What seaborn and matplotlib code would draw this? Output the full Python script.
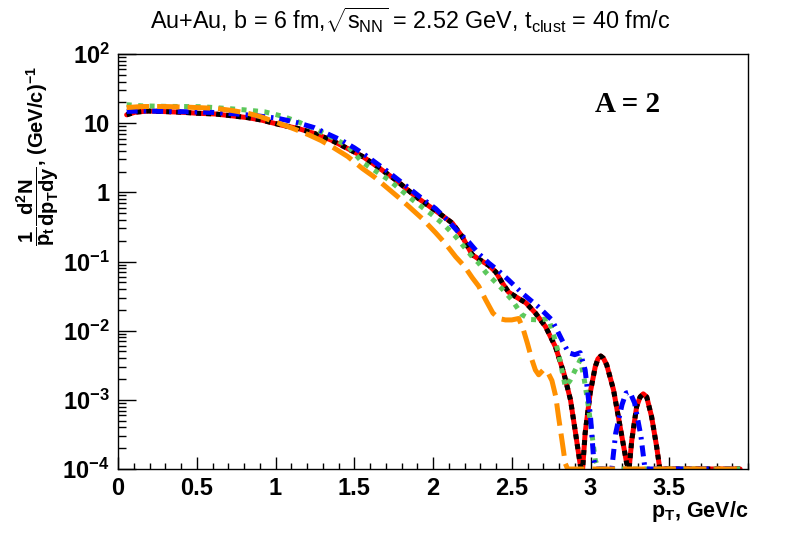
import numpy as np
import pandas as pd
import seaborn as sns
import matplotlib
matplotlib.use("Agg")
import matplotlib.pyplot as plt
from matplotlib.ticker import MultipleLocator, LogLocator, FixedLocator, NullFormatter

# pT grid points and spectra (zero bins drawn at the floor 1e-4)
red_x = [0.055, 0.108, 0.192, 0.297, 0.403, 0.508, 0.614, 0.72, 0.825, 0.91,
         1.036, 1.142, 1.247, 1.353, 1.458, 1.553, 1.616, 1.764, 1.89, 2.038,
         2.122, 2.185, 2.249, 2.30, 2.354, 2.40, 2.44, 2.48, 2.525, 2.59,
         2.65, 2.715, 2.778, 2.83, 2.873, 2.905, 2.937, 2.95, 2.966, 2.998,
         3.03, 3.047, 3.065, 3.082, 3.103, 3.146, 3.188, 3.23, 3.245, 3.262,
         3.293, 3.315, 3.335, 3.357, 3.388, 3.42, 3.44, 3.95]
red_y = [13.2, 14.4, 15.0, 14.7, 14.4, 13.9, 13.6, 12.8, 12.0, 11.1,
         9.4, 8.4, 7.1, 5.7, 4.3, 3.3, 2.63, 1.51, 0.87, 0.50,
         0.36, 0.23, 0.125, 0.105, 0.088, 0.07, 0.049, 0.036, 0.031, 0.0252,
         0.018, 0.0114, 0.0058, 0.00246, 0.001, 3.3e-4, 1.07e-4, 1e-4, 3.3e-4, 1.26e-3,
         3.0e-3, 3.9e-3, 4.3e-3, 4.0e-3, 3.2e-3, 1.4e-3, 4.1e-4, 1.2e-4, 1e-4, 2.6e-4,
         8e-4, 1.1e-3, 1.22e-3, 1.1e-3, 5.7e-4, 2.1e-4, 1e-4, 1e-4]
black_x = red_x
black_y = red_y

blue_x = [0.055, 0.15, 0.3, 0.45, 0.6, 0.75, 0.88, 1.01, 1.13, 1.247,
          1.33, 1.416, 1.5, 1.574, 1.70, 1.827, 1.92, 2.017, 2.1, 2.165,
          2.228, 2.29, 2.354, 2.42, 2.48, 2.565, 2.67, 2.755, 2.818, 2.86,
          2.90, 2.935, 2.966, 3.0, 3.02, 3.035, 3.135, 3.16, 3.2, 3.225,
          3.25, 3.28, 3.32, 3.346, 3.95]
blue_y = [14.8, 15.0, 14.8, 14.6, 14.3, 13.6, 12.8, 11.8, 10.3, 8.6,
          7.0, 5.7, 4.4, 3.4, 2.1, 1.25, 0.85, 0.58, 0.38, 0.26,
          0.19, 0.13, 0.095, 0.072, 0.054, 0.035, 0.022, 0.0143, 0.0074, 0.0048,
          0.0045, 0.0048, 0.0027, 5.7e-4, 1.4e-4, 1e-4, 1e-4, 3.3e-4, 8.5e-4, 1.25e-3,
          1.3e-3, 9e-4, 3e-4, 1e-4, 1e-4]

green_x = [0.055, 0.15, 0.3, 0.53, 0.677, 0.8, 0.93, 1.05, 1.15, 1.268,
           1.36, 1.458, 1.553, 1.64, 1.72, 1.87, 1.996, 2.07, 2.144, 2.2,
           2.249, 2.29, 2.334, 2.44, 2.50, 2.565, 2.62, 2.68, 2.734, 2.77,
           2.797, 2.84, 2.87, 2.903, 2.935, 2.96, 2.987, 3.03, 3.05, 3.95]
green_y = [18.5, 17.8, 17.5, 17.3, 16.4, 15.6, 14.6, 12.5, 10.3, 7.9,
           6.2, 4.7, 2.7, 2.0, 1.51, 0.78, 0.47, 0.34, 0.229, 0.16,
           0.117, 0.095, 0.07, 0.04, 0.028, 0.017, 0.0145, 0.0143, 0.015, 0.008,
           0.0047, 0.00155, 0.0019, 0.0027, 0.0038, 0.002, 7.9e-4, 1.36e-4, 1e-4, 1e-4]

orange_x = [0.055, 0.15, 0.3, 0.45, 0.614, 0.72, 0.825, 0.91, 0.994, 1.07,
            1.14, 1.21, 1.29, 1.37, 1.458, 1.553, 1.63, 1.70, 1.78, 1.848,
            1.93, 2.017, 2.08, 2.144, 2.20, 2.25, 2.29, 2.334, 2.38, 2.418,
            2.46, 2.50, 2.544, 2.57, 2.60, 2.628, 2.65, 2.671, 2.70, 2.725,
            2.755, 2.78, 2.797, 2.82, 2.84, 2.855, 3.95]
orange_y = [16.8, 17.4, 17.4, 17.0, 16.4, 15.3, 13.9, 12.3, 10.5, 9.1,
            7.9, 6.8, 5.6, 4.4, 3.3, 2.2, 1.65, 1.21, 0.85, 0.62,
            0.42, 0.26, 0.18, 0.117, 0.085, 0.058, 0.044, 0.028, 0.018, 0.015,
            0.0143, 0.0143, 0.015, 0.011, 0.0065, 0.0038, 0.0027, 0.0023, 0.0027, 0.0026,
            0.0019, 0.0011, 5.7e-4, 2.5e-4, 1.2e-4, 1e-4, 1e-4]

x_ticks = [0, 0.5, 1, 1.5, 2, 2.5, 3, 3.5]
x_tick_labels = ["0", "0.5", "1", "1.5", "2", "2.5", "3", "3.5"]
y_ticks = [1e-4, 1e-3, 1e-2, 1e-1, 1, 10, 100]
y_tick_labels = [r"$\mathbf{10^{-4}}$", r"$\mathbf{10^{-3}}$", r"$\mathbf{10^{-2}}$",
                 r"$\mathbf{10^{-1}}$", "1", "10", r"$\mathbf{10^{2}}$"]

title = r"Au+Au, b = 6 fm,$\sqrt{s_{NN}}$ = 2.52 GeV, t$_{clust}$ = 40 fm/c"

sns.set_theme(style="ticks")
plt.rcParams['font.family'] = ['Liberation Sans', 'DejaVu Sans']
plt.rcParams['mathtext.fontset'] = 'custom'
plt.rcParams['mathtext.rm'] = 'Liberation Sans'
plt.rcParams['mathtext.it'] = 'Liberation Sans'
plt.rcParams['mathtext.bf'] = 'Liberation Sans:bold'
plt.rcParams['text.color'] = 'black'
plt.rcParams['xtick.color'] = 'black'
plt.rcParams['ytick.color'] = 'black'
plt.rcParams['axes.edgecolor'] = 'black'

fig = plt.figure(figsize=(7.88, 5.34), dpi=100)
ax = fig.add_axes([118/788, 1-469/534, 630/788, 415/534])

lw = 3.6
sns.lineplot(x=red_x, y=red_y, ax=ax, color="#ff0000", lw=lw, solid_joinstyle="round")
sns.lineplot(x=black_x, y=black_y, ax=ax, color="black", lw=lw, linestyle=(0, (1, 1)),
             dash_capstyle="butt")
sns.lineplot(x=green_x, y=green_y, ax=ax, color="#5cc85c", lw=lw, linestyle=(0, (1, 1.3)),
             dash_capstyle="butt")
sns.lineplot(x=blue_x, y=blue_y, ax=ax, color="#0000ff", lw=lw,
             linestyle=(0, (2.2, 1.2, 0.5, 1.2)), dash_capstyle="butt")
sns.lineplot(x=orange_x, y=orange_y, ax=ax, color="#ff9000", lw=lw, linestyle=(0, (4.5, 1.6)),
             dash_capstyle="butt")

ax.set_yscale("log")
ax.set_xlim(0, 4)
ax.set_ylim(1e-4, 100)

ax.xaxis.set_major_locator(FixedLocator(x_ticks))
ax.set_xticklabels(x_tick_labels, fontweight="bold", fontsize=17, color="black")
ax.xaxis.set_minor_locator(MultipleLocator(0.1))
ax.yaxis.set_major_locator(FixedLocator(y_ticks))
ax.set_yticklabels(y_tick_labels, fontweight="bold", fontsize=17, color="black")
ax.yaxis.set_minor_locator(LogLocator(base=10, subs=np.arange(2, 10), numticks=20))
ax.yaxis.set_minor_formatter(NullFormatter())

ax.tick_params(which="both", direction="in", top=False, right=False, width=1, color="black")
ax.tick_params(axis="x", which="major", length=9, pad=6)
ax.tick_params(axis="x", which="minor", length=4.5)
ax.tick_params(axis="y", which="major", length=13, pad=6)
ax.tick_params(axis="y", which="minor", length=6)
for sp in ax.spines.values():
    sp.set_visible(True)
    sp.set_color("black")
    sp.set_linewidth(1.0)
ax.set_xlabel("")
ax.set_ylabel("")

fig.text(410/788, 1-20/534, title, ha="center", va="center", fontsize=16.8, color="black")
fig.text(628/788, 1-105/534, "A = 2", ha="center", va="center", fontsize=21,
         fontweight="bold", family="Liberation Serif", color="black")
fig.text(38/788, 1-156/534,
         r"$\mathbf{\dfrac{1}{p_{t}}\dfrac{d^{2}N}{dp_{T}dy}}$, (GeV/c)$^{\mathbf{-1}}$",
         rotation=90, ha="center", va="center", fontsize=14.5, fontweight="bold", color="black")
fig.text(748/788, 1-511/534, r"p$_{\mathbf{T}}$, GeV/c", ha="right", va="center",
         fontsize=15.5, fontweight="bold", color="black")

fig.savefig("out.png", dpi=100)
